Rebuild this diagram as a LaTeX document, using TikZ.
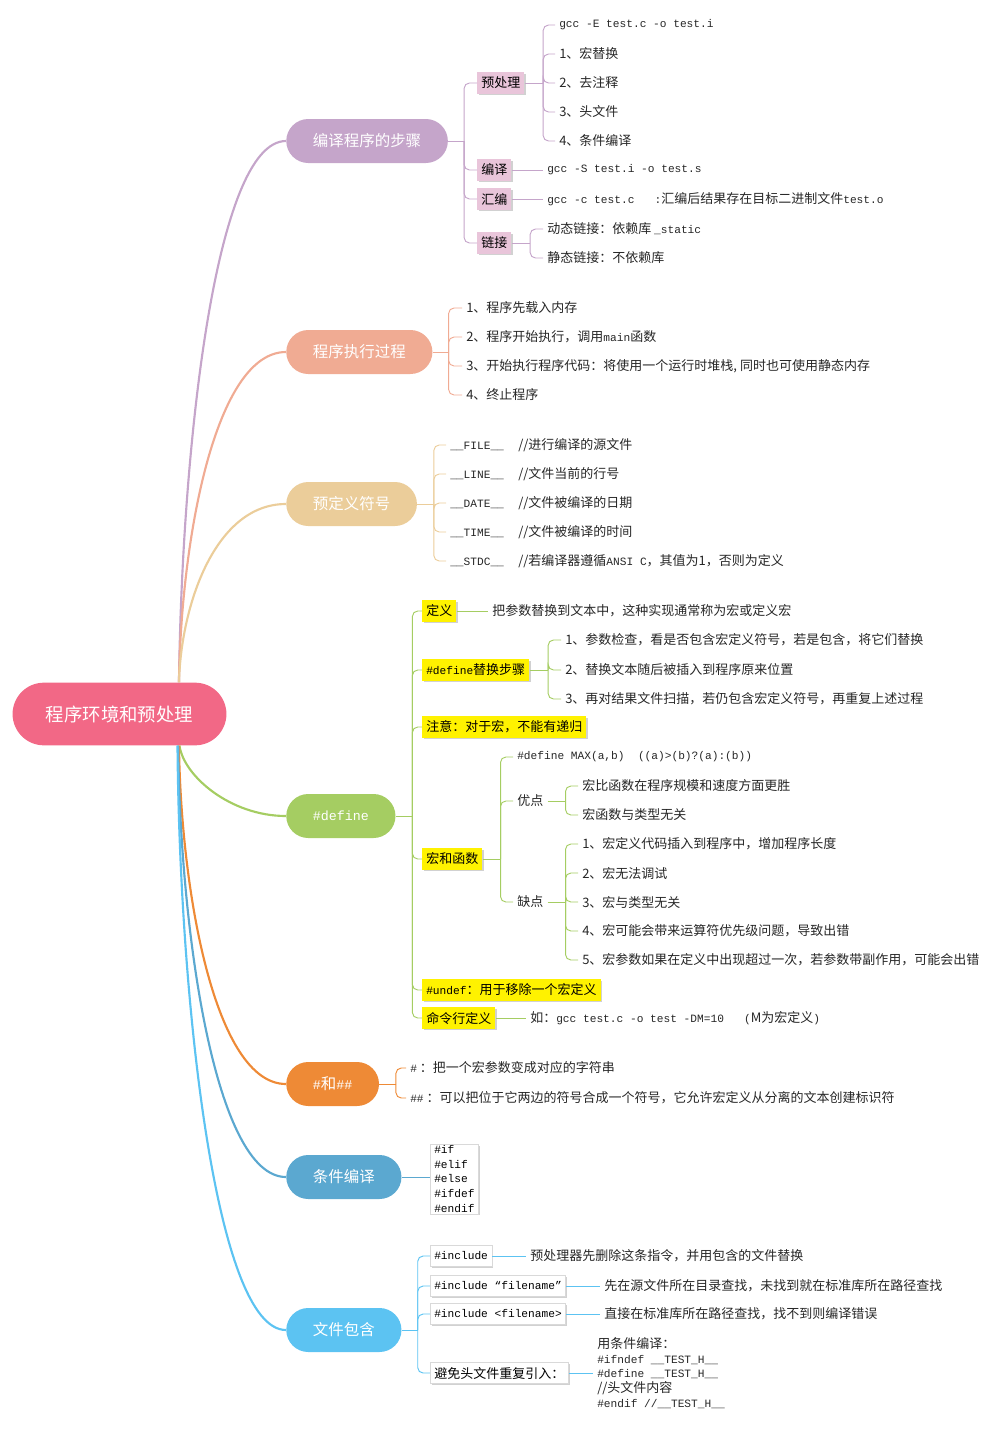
\documentclass[tikz,border=0pt]{standalone}
\usepackage{fontspec}
\setmainfont{Noto Sans CJK SC}
\setmonofont[Scale=0.86]{Liberation Mono}
\usetikzlibrary{shadows}
\definecolor{rootc}{HTML}{F26886}
\definecolor{c1}{HTML}{C5A5CA}
\definecolor{c2}{HTML}{F0AB93}
\definecolor{c3}{HTML}{EBCD9A}
\definecolor{c4}{HTML}{A5CD62}
\definecolor{c5}{HTML}{EE8A36}
\definecolor{c6}{HTML}{5BA8D0}
\definecolor{c7}{HTML}{5CC3F2}
\definecolor{boxpink}{HTML}{E9C5DA}
\tikzstyle{root} = [rectangle, fill=rootc, text=white, rounded corners=23.5pt,
    minimum height=47pt, inner xsep=25pt, font=\fontsize{13.8}{16}\selectfont]
\tikzstyle{topic} = [rectangle, anchor=west, text=white, rounded corners=16.5pt,
    minimum height=33pt, inner xsep=20pt, font=\fontsize{11.6}{14}\selectfont]
\tikzstyle{tag} = [rectangle, anchor=west, minimum height=16pt, inner xsep=3pt, inner ysep=1pt,
    drop shadow={shadow xshift=1pt, shadow yshift=-1pt, fill=black!18, opacity=1}]
\tikzstyle{pinktag} = [tag, fill=boxpink]
\tikzstyle{yellowtag} = [tag, fill=yellow]
\tikzstyle{whitetag} = [tag, fill=white, draw=black!15]
\tikzstyle{leaf} = [anchor=west, inner xsep=3pt, inner ysep=1pt, text=black!85]
\tikzstyle{curve} = [line width=1.6pt]
\tikzstyle{twig} = [line width=0.7pt, rounded corners=4pt]

\begin{document}
\begin{tikzpicture}[x=0.75pt, y=-0.75pt, font=\fontsize{9.75}{11}\selectfont]
  \useasboundingbox (0,0) rectangle (987,1429);

  \node[root] (root) at (119.5,714) {程序环境和预处理};
  \node[topic,fill=c1] (steps) at (286,141)  {编译程序的步骤};
  \node[topic,fill=c2] (run)   at (286,352)  {程序执行过程};
  \node[topic,fill=c3] (sym)   at (286,504)  {预定义符号};
  \node[topic,fill=c4] (def)   at (286,816)  {\texttt{\#define}};
  \node[topic,fill=c5] (hash)  at (286,1084) {\texttt{\#}和\texttt{\#\#}};
  \node[topic,fill=c6] (cond)  at (286,1177) {条件编译};
  \node[topic,fill=c7] (inc)   at (286,1330) {文件包含};

  % compile steps
  \node[pinktag] (pre)  at (477,83)  {预处理};
  \node[pinktag] (comp) at (477,170) {编译};
  \node[pinktag] (asm)  at (477,199) {汇编};
  \node[pinktag] (link) at (477,243) {链接};
  \node[leaf] (pre0) at (555,25)  {\texttt{gcc -E test.c -o test.i}};
  \node[leaf] (pre1) at (555,54)  {1、宏替换};
  \node[leaf] (pre2) at (555,83)  {2、去注释};
  \node[leaf] (pre3) at (555,112) {3、头文件};
  \node[leaf] (pre4) at (555,141) {4、条件编译};
  \node[leaf] (comp0) at (543,170) {\texttt{gcc -S test.i -o test.s}};
  \node[leaf] (asm0)  at (543,199) {\texttt{gcc -c test.c\ \ \ :}汇编后结果存在目标二进制文件\texttt{test.o}};
  \node[leaf] (link0) at (543,229) {动态链接：依赖库 \texttt{\_static}};
  \node[leaf] (link1) at (543,258) {静态链接：不依赖库};

  % execution
  \node[leaf] (run0) at (462,308) {1、程序先载入内存};
  \node[leaf] (run1) at (462,337) {2、程序开始执行，调用\texttt{main}函数};
  \node[leaf] (run2) at (462,366) {3、开始执行程序代码：将使用一个运行时堆栈, 同时也可使用静态内存};
  \node[leaf] (run3) at (462,395) {4、终止程序};

  % predefined symbols
  \node[leaf] (sym0) at (446,445) {\makebox[51pt][l]{\texttt{\_\_FILE\_\_}}//进行编译的源文件};
  \node[leaf] (sym1) at (446,474) {\makebox[51pt][l]{\texttt{\_\_LINE\_\_}}//文件当前的行号};
  \node[leaf] (sym2) at (446,503) {\makebox[51pt][l]{\texttt{\_\_DATE\_\_}}//文件被编译的日期};
  \node[leaf] (sym3) at (446,532) {\makebox[51pt][l]{\texttt{\_\_TIME\_\_}}//文件被编译的时间};
  \node[leaf] (sym4) at (446,561) {\makebox[51pt][l]{\texttt{\_\_STDC\_\_}}//若编译器遵循\texttt{ANSI C}，其值为1，否则为定义};

  % #define
  \node[yellowtag] (dfn)   at (422,611)  {定义};
  \node[yellowtag] (rep)   at (422,670)  {\texttt{\#define}替换步骤};
  \node[yellowtag] (note)  at (422,727)  {注意：对于宏，不能有递归};
  \node[yellowtag] (mac)   at (422,859)  {宏和函数};
  \node[yellowtag] (undef) at (422,990)  {\texttt{\#undef}：用于移除一个宏定义};
  \node[yellowtag] (cmd)   at (422,1018) {命令行定义};
  \node[leaf] (dfn0) at (488,611) {把参数替换到文本中，这种实现通常称为宏或定义宏};
  \node[leaf] (rep0) at (561,640) {1、参数检查，看是否包含宏定义符号，若是包含，将它们替换};
  \node[leaf] (rep1) at (561,670) {2、替换文本随后被插入到程序原来位置};
  \node[leaf] (rep2) at (561,699) {3、再对结果文件扫描，若仍包含宏定义符号，再重复上述过程};
  \node[leaf] (mac0) at (513,757) {\texttt{\#define MAX(a,b)\ \ ((a)>(b)?(a):(b))}};
  \node[leaf] (pro)  at (513,801) {优点};
  \node[leaf] (con)  at (513,902) {缺点};
  \node[leaf] (pro0) at (578,786) {宏比函数在程序规模和速度方面更胜};
  \node[leaf] (pro1) at (578,815) {宏函数与类型无关};
  \node[leaf] (con0) at (578,844) {1、宏定义代码插入到程序中，增加程序长度};
  \node[leaf] (con1) at (578,873) {2、宏无法调试};
  \node[leaf] (con2) at (578,902) {3、宏与类型无关};
  \node[leaf] (con3) at (578,931) {4、宏可能会带来运算符优先级问题，导致出错};
  \node[leaf] (con4) at (578,960) {5、宏参数如果在定义中出现超过一次，若参数带副作用，可能会出错};
  \node[leaf] (cmd0) at (526,1018) {如：\texttt{gcc test.c -o test -DM=10\ \ \ (}M为宏定义\texttt{)}};

  % # and ##
  \node[leaf] (hash0) at (406,1068) {\texttt{\#} ：把一个宏参数变成对应的字符串};
  \node[leaf] (hash1) at (406,1098) {\texttt{\#\#} ：可以把位于它两边的符号合成一个符号，它允许宏定义从分离的文本创建标识符};

  % conditional compilation
  \node[whitetag,align=left,font=\fontsize{9.75}{11}\selectfont\ttfamily] (condbox) at (430,1179)
      {\#if\\\#elif\\\#else\\\#ifdef\\\#endif};

  % file inclusion
  \node[whitetag] (incA) at (430,1256) {\texttt{\#include}};
  \node[whitetag] (incB) at (430,1286) {\texttt{\#include “filename”}};
  \node[whitetag] (incC) at (430,1314) {\texttt{\#include <filename>}};
  \node[whitetag] (incD) at (430,1373) {避免头文件重复引入：};
  \node[leaf] (incA0) at (526,1256) {预处理器先删除这条指令，并用包含的文件替换};
  \node[leaf] (incB0) at (600,1286) {先在源文件所在目录查找，未找到就在标准库所在路径查找};
  \node[leaf] (incC0) at (600,1314) {直接在标准库所在路径查找，找不到则编译错误};
  \node[leaf,align=left] (incD0) at (593,1373) {用条件编译：\\\texttt{\#ifndef \_\_TEST\_H\_\_}\\\texttt{\#define \_\_TEST\_H\_\_}\\//头文件内容\\\texttt{\#endif //\_\_TEST\_H\_\_}};

  % main branches
  \draw[curve,c1] ([xshift=44.6pt]root.north) .. controls +(3,-234) and +(-71,0) .. (steps.west);
  \draw[curve,c2] ([xshift=44.6pt]root.north) .. controls +(2,-142) and +(-71,0) .. (run.west);
  \draw[curve,c3] ([xshift=44.6pt]root.north) .. controls +(2,-77) and +(-71,0) .. (sym.west);
  \draw[curve,c4] ([xshift=45pt]root.south) .. controls +(4,30) and +(-56,0) .. (def.west);
  \draw[curve,c5] ([xshift=44.6pt]root.south) .. controls +(2,146) and +(-71,0) .. (hash.west);
  \draw[curve,c6] ([xshift=44pt]root.south) .. controls +(2,186) and +(-71,0) .. (cond.west);
  \draw[curve,c7] ([xshift=43.5pt]root.south) .. controls +(2,252) and +(-71,0) .. (inc.west);

  % junctions
  \coordinate (stepsJ) at ([xshift=12pt]steps.east);
  \coordinate (preJ)   at ([xshift=14pt]pre.east);
  \coordinate (linkJ)  at ([xshift=14pt]link.east);
  \coordinate (runJ)   at ([xshift=12pt]run.east);
  \coordinate (symJ)   at ([xshift=12.5pt]sym.east);
  \coordinate (defJ)   at ([xshift=12.5pt]def.east);
  \coordinate (repJ)   at ([xshift=14pt]rep.east);
  \coordinate (macJ)   at ([xshift=13.5pt]mac.east);
  \coordinate (proJ)   at ([xshift=13.5pt]pro.east);
  \coordinate (conJ)   at ([xshift=13.5pt]con.east);
  \coordinate (hashJ)  at ([xshift=12.5pt]hash.east);
  \coordinate (incJ)   at ([xshift=12pt]inc.east);

  % compile steps
  \draw[twig,c1] (steps.east) -- (stepsJ);
  \draw[twig,c1] (stepsJ) |- (pre.west);
  \draw[twig,c1] (stepsJ) |- (comp.west);
  \draw[twig,c1] (stepsJ) |- (asm.west);
  \draw[twig,c1] (stepsJ) |- (link.west);
  \draw[twig,c1] (pre.east) -- (preJ);
  \draw[twig,c1] (preJ) |- (pre0.west);
  \draw[twig,c1] (preJ) |- (pre1.west);
  \draw[twig,c1] (preJ) |- (pre2.west);
  \draw[twig,c1] (preJ) |- (pre3.west);
  \draw[twig,c1] (preJ) |- (pre4.west);
  \draw[twig,c1] (comp.east) -- (comp0.west);
  \draw[twig,c1] (asm.east) -- (asm0.west);
  \draw[twig,c1] (link.east) -- (linkJ);
  \draw[twig,c1] (linkJ) |- (link0.west);
  \draw[twig,c1] (linkJ) |- (link1.west);

  % execution
  \draw[twig,c2] (run.east) -- (runJ);
  \draw[twig,c2] (runJ) |- (run0.west);
  \draw[twig,c2] (runJ) |- (run1.west);
  \draw[twig,c2] (runJ) |- (run2.west);
  \draw[twig,c2] (runJ) |- (run3.west);

  % predefined symbols
  \draw[twig,c3] (sym.east) -- (symJ);
  \draw[twig,c3] (symJ) |- (sym0.west);
  \draw[twig,c3] (symJ) |- (sym1.west);
  \draw[twig,c3] (symJ) |- (sym2.west);
  \draw[twig,c3] (symJ) |- (sym3.west);
  \draw[twig,c3] (symJ) |- (sym4.west);

  % #define
  \draw[twig,c4] (def.east) -- (defJ);
  \draw[twig,c4] (defJ) |- (dfn.west);
  \draw[twig,c4] (defJ) |- (rep.west);
  \draw[twig,c4] (defJ) |- (note.west);
  \draw[twig,c4] (defJ) |- (mac.west);
  \draw[twig,c4] (defJ) |- (undef.west);
  \draw[twig,c4] (defJ) |- (cmd.west);
  \draw[twig,c4] (dfn.east) -- (dfn0.west);
  \draw[twig,c4] (rep.east) -- (repJ);
  \draw[twig,c4] (repJ) |- (rep0.west);
  \draw[twig,c4] (repJ) |- (rep1.west);
  \draw[twig,c4] (repJ) |- (rep2.west);
  \draw[twig,c4] (mac.east) -- (macJ);
  \draw[twig,c4] (macJ) |- (mac0.west);
  \draw[twig,c4] (macJ) |- (pro.west);
  \draw[twig,c4] (macJ) |- (con.west);
  \draw[twig,c4] (pro.east) -- (proJ);
  \draw[twig,c4] (proJ) |- (pro0.west);
  \draw[twig,c4] (proJ) |- (pro1.west);
  \draw[twig,c4] (con.east) -- (conJ);
  \draw[twig,c4] (conJ) |- (con0.west);
  \draw[twig,c4] (conJ) |- (con1.west);
  \draw[twig,c4] (conJ) |- (con2.west);
  \draw[twig,c4] (conJ) |- (con3.west);
  \draw[twig,c4] (conJ) |- (con4.west);
  \draw[twig,c4] (cmd.east) -- (cmd0.west);

  % # and ##
  \draw[twig,c5] (hash.east) -- (hashJ);
  \draw[twig,c5] (hashJ) |- (hash0.west);
  \draw[twig,c5] (hashJ) |- (hash1.west);

  % conditional compilation
  \draw[twig,c6] (cond.east) -- (cond.east -| condbox.west);

  % file inclusion
  \draw[twig,c7] (inc.east) -- (incJ);
  \draw[twig,c7] (incJ) |- (incA.west);
  \draw[twig,c7] (incJ) |- (incB.west);
  \draw[twig,c7] (incJ) |- (incC.west);
  \draw[twig,c7] (incJ) |- (incD.west);
  \draw[twig,c7] (incA.east) -- (incA0.west);
  \draw[twig,c7] (incB.east) -- (incB0.west);
  \draw[twig,c7] (incC.east) -- (incC0.west);
  \draw[twig,c7] (incD.east) -- (incD0.west);
\end{tikzpicture}
\end{document}
